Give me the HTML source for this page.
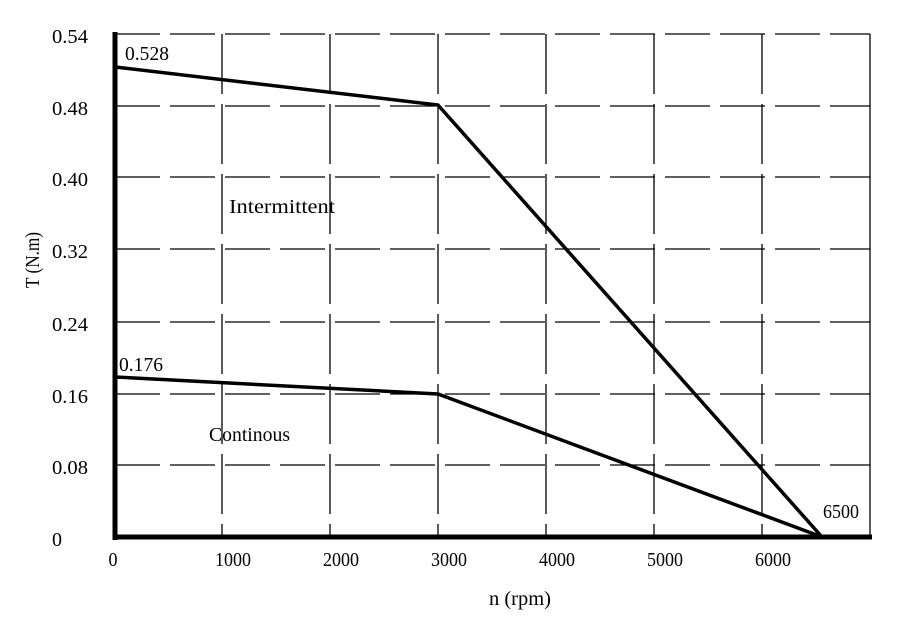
<!DOCTYPE html>
<html><head><meta charset="utf-8"><style>html,body{margin:0;padding:0;background:#fff}</style></head>
<body>
<svg width="909" height="617" viewBox="0 0 909 617" xmlns="http://www.w3.org/2000/svg" font-family="Liberation Serif, serif" font-size="20" fill="#000">
<g stroke="#000" stroke-width="1.3" fill="none">
<g stroke-dasharray="45,10">
<line x1="115" y1="34" x2="870" y2="34"/>
<line x1="115" y1="106" x2="870" y2="106"/>
<line x1="115" y1="177" x2="870" y2="177"/>
<line x1="115" y1="249" x2="870" y2="249"/>
<line x1="115" y1="322" x2="870" y2="322"/>
<line x1="115" y1="394" x2="870" y2="394"/>
<line x1="115" y1="465" x2="870" y2="465"/>
</g>
<g stroke-dasharray="60,10">
<line x1="222" y1="34" x2="222" y2="537"/>
<line x1="330" y1="34" x2="330" y2="537"/>
<line x1="438" y1="34" x2="438" y2="537"/>
<line x1="546" y1="34" x2="546" y2="537"/>
<line x1="654" y1="34" x2="654" y2="537"/>
<line x1="762" y1="34" x2="762" y2="537"/>
</g>
<line x1="870" y1="34" x2="870" y2="537"/>
</g>
<line x1="115" y1="32" x2="115" y2="540" stroke="#000" stroke-width="5"/>
<line x1="113" y1="537" x2="872" y2="537" stroke="#000" stroke-width="5"/>
<polyline points="115,67 438,105 822,537" fill="none" stroke="#000" stroke-width="3.5"/>
<polyline points="115,377 438,394 822,537" fill="none" stroke="#000" stroke-width="3.5"/>
<g text-anchor="end">
<text x="88" y="43" textLength="36" lengthAdjust="spacingAndGlyphs">0.54</text>
<text x="88" y="115" textLength="36" lengthAdjust="spacingAndGlyphs">0.48</text>
<text x="88" y="186" textLength="36" lengthAdjust="spacingAndGlyphs">0.40</text>
<text x="88" y="258" textLength="36" lengthAdjust="spacingAndGlyphs">0.32</text>
<text x="88" y="331" textLength="36" lengthAdjust="spacingAndGlyphs">0.24</text>
<text x="88" y="403" textLength="36" lengthAdjust="spacingAndGlyphs">0.16</text>
<text x="88" y="474" textLength="36" lengthAdjust="spacingAndGlyphs">0.08</text>
<text x="62" y="546">0</text>
</g>
<g text-anchor="middle">
<text x="113" y="566" textLength="9" lengthAdjust="spacingAndGlyphs">0</text>
<text x="233" y="566" textLength="36" lengthAdjust="spacingAndGlyphs">1000</text>
<text x="341" y="566" textLength="36" lengthAdjust="spacingAndGlyphs">2000</text>
<text x="449" y="566" textLength="36" lengthAdjust="spacingAndGlyphs">3000</text>
<text x="557" y="566" textLength="36" lengthAdjust="spacingAndGlyphs">4000</text>
<text x="665" y="566" textLength="36" lengthAdjust="spacingAndGlyphs">5000</text>
<text x="773" y="566" textLength="36" lengthAdjust="spacingAndGlyphs">6000</text>
<text x="520" y="605" textLength="62" lengthAdjust="spacingAndGlyphs">n (rpm)</text>
</g>
<text x="125" y="60" textLength="44" lengthAdjust="spacingAndGlyphs">0.528</text>
<text x="119" y="371" textLength="44" lengthAdjust="spacingAndGlyphs">0.176</text>
<text x="823" y="518" textLength="36" lengthAdjust="spacingAndGlyphs">6500</text>
<text x="229" y="213" textLength="106" lengthAdjust="spacingAndGlyphs">Intermittent</text>
<text x="209" y="441" textLength="81" lengthAdjust="spacingAndGlyphs">Continous</text>
<text transform="translate(39,260) rotate(-90)" text-anchor="middle" textLength="56" lengthAdjust="spacingAndGlyphs">T (N.m)</text>
</svg>
</body></html>
